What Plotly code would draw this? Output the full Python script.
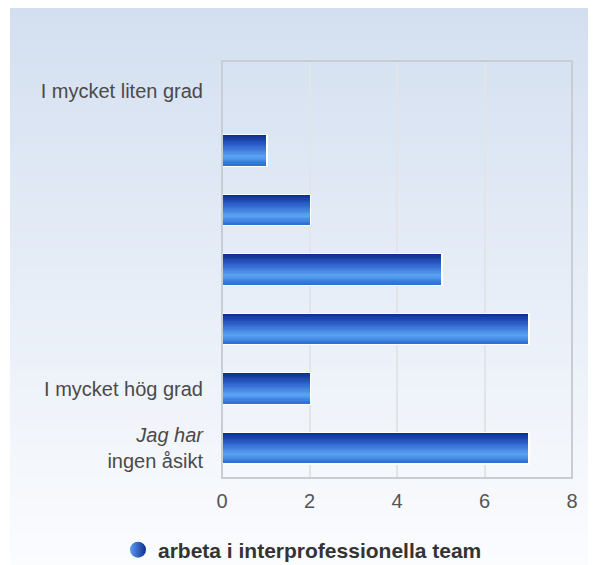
import plotly.graph_objects as go

# ---- data ----
categories = ["I mycket liten grad", "", "", "", "", "I mycket hög grad",
              "<i>Jag har</i><br>ingen åsikt"]
values = [0, 1, 2, 5, 7, 2, 7]
series_name = "arbeta i interprofessionella team"
x_ticks = [0, 2, 4, 6, 8]

W, H = 588, 557
L, R, T, B = 214, 24, 53, 87
pw, ph = W - L - R, H - T - B

def hexmix(c1, c2, t):
    a = [int(c1[i:i+2], 16) for i in (1, 3, 5)]
    b = [int(c2[i:i+2], 16) for i in (1, 3, 5)]
    return "rgb(%d,%d,%d)" % tuple(round(a[k] + (b[k]-a[k])*t) for k in range(3))

fig = go.Figure()
ypos = list(range(len(categories)))

bw = 0.5
fig.add_trace(go.Bar(y=ypos, x=[v + 0.04 if v > 0 else 0 for v in values], orientation="h",
                     width=bw + 0.05, marker=dict(color="white", line=dict(width=0)),
                     showlegend=False, hoverinfo="skip"))

stops = [(0.0, "#0c2c8c"), (0.35, "#2f62cc"), (0.72, "#5aa4f4"), (1.0, "#2f6cd4")]
def grad(t):
    for i in range(len(stops)-1):
        t0, c0 = stops[i]; t1, c1 = stops[i+1]
        if t0 <= t <= t1:
            return hexmix(c0, c1, (t - t0)/(t1 - t0))
    return stops[-1][1]

N = 24
sw = bw / N
for i in range(N):
    t = (i + 0.5) / N
    fig.add_trace(go.Bar(y=ypos, x=values, orientation="h",
                         width=sw * 1.05, offset=-bw/2 + i*sw,
                         marker=dict(color=grad(t), line=dict(width=0)),
                         showlegend=False, hoverinfo="skip"))

fig.add_trace(go.Scatter(x=[None], y=[None], mode="markers", name="<b>" + series_name + "</b>",
                         marker=dict(symbol="circle", size=20, color="#5c9cf2",
                                     gradient=dict(type="horizontal", color="#0e2e92"))))

# background gradient
shapes = []
bgN = 70
left_px = 2
for i in range(bgN):
    y0p = H * i / bgN
    y1p = H * (i + 1) / bgN
    t = (i + 0.5) / bgN
    if i == bgN - 1:
        y1p = H + 60
    shapes.append(dict(type="rect", xref="paper", yref="paper", layer="below",
                       x0=(left_px - L) / pw, x1=(W + 60 - L) / pw,
                       y0=(H - B - y1p) / ph - 0.002, y1=(H - B - y0p) / ph + 0.002,
                       fillcolor=hexmix("#d3dff0", "#fbfcfe", t), line=dict(width=0)))
shapes.append(dict(type="rect", xref="paper", yref="paper", x0=0, x1=1, y0=0, y1=1,
                   line=dict(color="#c8cdd4", width=2), layer="above"))

fig.update_layout(
    width=W, height=H, margin=dict(l=L, r=R, t=T, b=B, autoexpand=False),
    paper_bgcolor="white", plot_bgcolor="rgba(0,0,0,0)",
    barmode="overlay", bargap=0,
    shapes=shapes,
    font=dict(family="Liberation Sans, Arial, sans-serif", color="#555555", size=20),
    xaxis=dict(range=[0, 8], tickvals=x_ticks, showgrid=True, gridcolor="#e2e4e8",
               gridwidth=2, zeroline=False, showline=False, ticks="",
               ticklabelstandoff=9, automargin=False,
               tickfont=dict(size=20, color="#555555"), fixedrange=True),
    yaxis=dict(tickvals=ypos, ticktext=categories, autorange=False, range=[6.5, -0.5],
               showgrid=False, zeroline=False, ticks="", ticklabelstandoff=18,
               automargin=False, tickfont=dict(size=20, color="#4a4a4a")),
    legend=dict(orientation="h", x=(110 - L) / pw, xanchor="left",
                y=(H - B - 542) / ph, yanchor="middle",
                font=dict(size=21, color="#333333", family="Liberation Sans, Arial, sans-serif"),
                bgcolor="rgba(0,0,0,0)", itemsizing="trace"),
    showlegend=True,
)

fig.write_html("out.html")
